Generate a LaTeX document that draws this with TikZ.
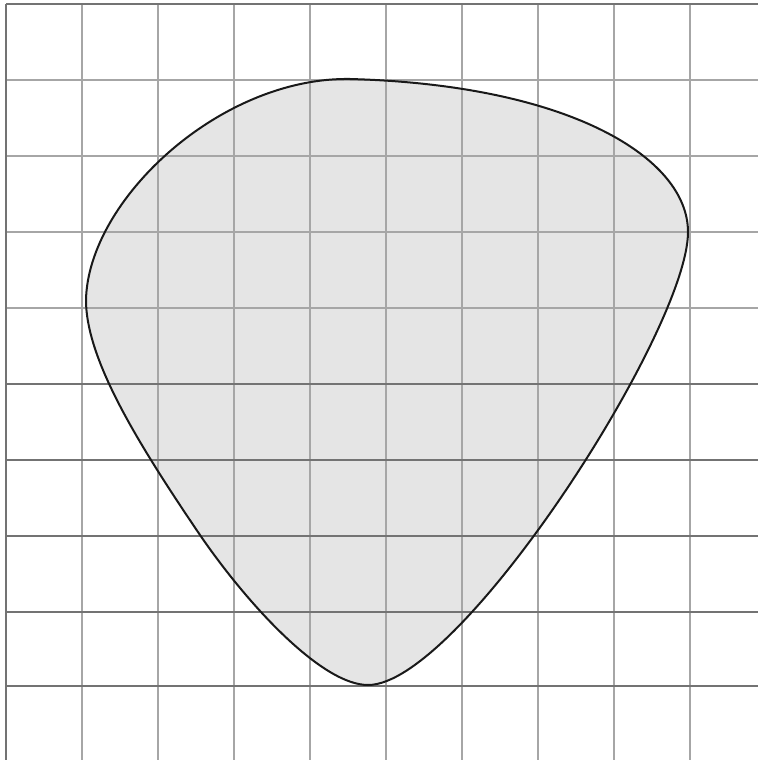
\documentclass[tikz,border=0pt]{standalone}
\begin{document}
\begin{tikzpicture}[x=1pt,y=-1pt,
  gridlight/.style={draw=black!35,line width=1.4pt},
  griddark/.style={draw=black!55,line width=1.6pt},
  blob/.style={fill=black!10},
  outline/.style={draw=black!90,line width=2pt}]
\useasboundingbox (0,0) rectangle (758,760);
\def\pickpath{(350,79) .. controls (570,85) and (688,158) .. (688,232)
  .. controls (688,330) and (460,685) .. (368,685)
  .. controls (322,685) and (248,605) .. (200,535)
  .. controls (139,445) and (86,360) .. (86,300)
  .. controls (88,200) and (220,77) .. (350,79) -- cycle}
% fill of the shape
\path[blob] \pickpath;
% grid
\foreach \x in {82,158,234,310,386,462,538,614,690}
  \draw[gridlight] (\x,4) -- (\x,760);
\foreach \y in {80,156,232,308}
  \draw[gridlight] (6,\y) -- (758,\y);
\foreach \y in {384,460,536,612,686}
  \draw[griddark] (6,\y) -- (758,\y);
\draw[griddark] (6,4) -- (758,4);
\draw[griddark] (6,4) -- (6,760);
% outline
\draw[outline] \pickpath;
\end{tikzpicture}
\end{document}
